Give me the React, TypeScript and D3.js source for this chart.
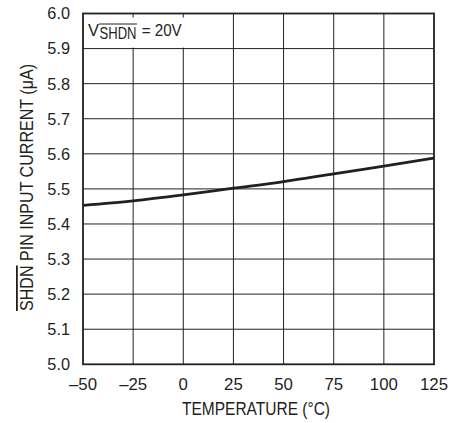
import React from 'react';
import * as d3 from 'd3';

const temps = [-50, -25, 0, 25, 50, 75, 100, 125];
const current = [5.453, 5.466, 5.483, 5.502, 5.521, 5.543, 5.565, 5.588];
const xTicks = [-50, -25, 0, 25, 50, 75, 100, 125];
const yTicks = [5.0, 5.1, 5.2, 5.3, 5.4, 5.5, 5.6, 5.7, 5.8, 5.9, 6.0];

const W = 461;
const H = 423;
const FONT = '"Liberation Sans", Arial, sans-serif';
const INK = '#231f20';

const App: React.FC = () => {
    const x = d3.scaleLinear().domain([-50, 125]).range([83, 434]);
    const y = d3.scaleLinear().domain([5.0, 6.0]).range([364.3, 13.5]);

    const line = d3.line<number>()
        .x((_, i) => x(temps[i]))
        .y(d => y(d))
        .curve(d3.curveMonotoneX);

    const fmtX = (t: number) => (t < 0 ? '\u2013' + Math.abs(t) : String(t));

    return (
        <svg width={W} height={H} style={{position: 'absolute', left: 0, top: 0, background: '#fff'}}
             fontFamily={FONT}>
            {/* grid */}
            {xTicks.slice(1, -1).map(t => (
                <line key={'gx' + t} x1={x(t)} x2={x(t)} y1={y(6.0)} y2={y(5.0)} stroke="#222" strokeWidth={1}/>
            ))}
            {yTicks.slice(1, -1).map(t => (
                <line key={'gy' + t} x1={x(-50)} x2={x(125)} y1={y(t)} y2={y(t)} stroke="#222" strokeWidth={1}/>
            ))}

            {/* label box */}
            <rect x={x(-50) + 1} y={y(6.0) + 4} width={143} height={y(5.9) - y(6.0) - 5} fill="#fff"/>
            <text x={88} y={35.5} fontSize={17} fill={INK} textLength={11} lengthAdjust="spacingAndGlyphs">V</text>
            <text x={99.5} y={39} fontSize={16.5} fill={INK} textLength={37} lengthAdjust="spacingAndGlyphs">SHDN</text>
            <line x1={99} x2={137} y1={24} y2={24} stroke={INK} strokeWidth={1.1}/>
            <text x={141.7} y={35.5} fontSize={17} fill={INK} textLength={40} lengthAdjust="spacingAndGlyphs">= 20V</text>

            {/* curve */}
            <path d={line(current) || ''} fill="none" stroke={INK} strokeWidth={2.8}/>

            {/* frame */}
            <rect x={x(-50)} y={y(6.0)} width={x(125) - x(-50)} height={y(5.0) - y(6.0)}
                  fill="none" stroke={INK} strokeWidth={1.8}/>

            {/* y ticks */}
            {yTicks.map(t => (
                <text key={'ty' + t} x={70} y={y(t)} dy="0.36em" textAnchor="end" fontSize={16.3} fill={INK}>
                    {t.toFixed(1)}
                </text>
            ))}
            {/* x ticks */}
            {xTicks.map(t => (
                <text key={'tx' + t} x={x(t)} y={390} textAnchor="middle" fontSize={16.8} fill={INK}>
                    {fmtX(t)}
                </text>
            ))}

            <text x={256} y={415} textAnchor="middle" fontSize={18.5} fill={INK}
                  textLength={148} lengthAdjust="spacingAndGlyphs">TEMPERATURE (°C)</text>

            <g transform={`translate(33, ${(64 + 311) / 2}) rotate(-90)`}>
                <text x={0} y={0} textAnchor="middle" fontSize={18} fill={INK}
                      textLength={247} lengthAdjust="spacingAndGlyphs">
                    <tspan textDecoration="overline">SHDN</tspan> PIN INPUT CURRENT (μA)
                </text>
            </g>
        </svg>
    );
};

export default App;
